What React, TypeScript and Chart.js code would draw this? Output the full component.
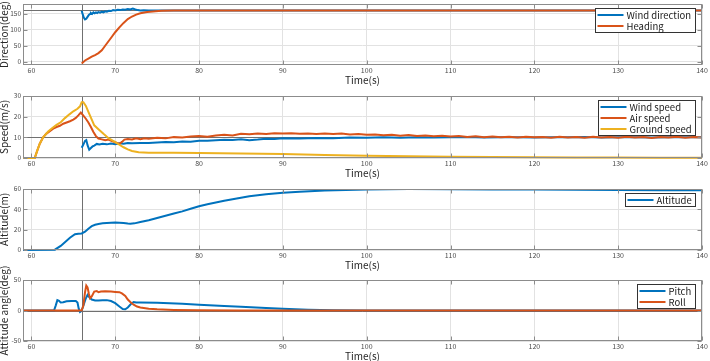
import React, { useEffect, useRef } from "react";
import { Chart, registerables } from "chart.js";

Chart.register(...registerables);

const FONT = '"Noto Sans CJK JP", "Noto Sans", sans-serif';
const BLUE = "#0072BD";
const ORANGE = "#D95319";
const YELLOW = "#EDB120";
const GRID = "#e2e2e2";
const FRAME = "#8c8c8c";
const MARK = "#707070";

// shared time axis
const T_MIN = 59;
const T_MAX = 140;
const EVENT_T = 66;
const timeTicks = [60, 70, 80, 90, 100, 110, 120, 130, 140];

// direction (deg)
const dirTicks = [0, 50, 100, 150];
const windDirT = [66.0, 66.1, 66.25, 66.4, 66.55, 66.7, 66.85, 67.0, 67.1, 67.25, 67.4, 67.55, 67.7, 67.85, 68.0, 68.2, 68.4, 68.6, 68.8, 69.0, 69.25, 69.5, 69.75, 70.0, 70.3, 70.6, 70.9, 71.2, 71.5, 71.8, 72.1, 72.4, 72.7, 73.0, 73.4, 74, 140];
const windDirV = [159, 150, 138, 132, 134, 140, 146, 149, 152, 149, 154, 151, 154, 152, 155, 153, 156, 154, 157, 156, 159, 158, 161, 160, 162, 161, 163, 162, 164, 163, 166, 163, 161, 160, 160.5, 160, 160];
const headingT = [66, 66.4, 66.8, 67.2, 67.6, 68.0, 68.4, 68.8, 69.2, 69.6, 70.0, 70.5, 71.0, 71.5, 72.0, 72.5, 73.0, 73.8, 74.5, 75.5, 77, 80, 140];
const headingV = [-5, 4, 10, 16, 21, 27, 36, 50, 64, 78, 92, 107, 121, 133, 141, 147, 151, 155, 157, 159, 160, 160, 160];

// speed (m/s)
const speedTicks = [0, 10, 20, 30];
const windSpdT = [66.0, 66.2, 66.4, 66.55, 66.7, 66.9, 67.1, 67.3, 67.5, 67.8, 68.1, 68.5, 69, 69.5, 70, 70.5, 71, 71.5, 72, 73, 74, 75, 76, 77, 78, 79, 80, 81, 82, 83, 84, 85, 86, 87, 88, 89, 90, 92, 94, 96, 98, 100, 102, 104, 106, 108, 110, 112, 114, 116, 118, 120, 122, 124, 126, 128, 130, 132, 134, 136, 138, 140];
const windSpdV = [5.0, 6.5, 8.3, 8.7, 6.2, 4.0, 4.8, 5.6, 6.0, 6.8, 6.5, 6.9, 6.6, 7.0, 6.7, 7.1, 6.9, 7.3, 7.1, 7.3, 7.2, 7.5, 7.7, 7.6, 8.0, 7.9, 8.4, 8.3, 8.6, 8.8, 8.7, 9.1, 8.6, 8.9, 9.3, 9.2, 9.5, 9.4, 9.7, 9.6, 9.9, 9.8, 10.0, 9.8, 10.1, 9.9, 10.0, 10.2, 9.9, 10.1, 10.0, 9.9, 10.1, 10.0, 10.2, 9.9, 10.0, 10.1, 9.9, 10.1, 10.0, 10.0];
const airSpdT = [59, 60.4, 60.7, 61.0, 61.4, 61.8, 62.2, 62.6, 63.0, 63.4, 63.8, 64.2, 64.6, 65.0, 65.3, 65.6, 65.9, 66.2, 66.5, 66.8, 67.1, 67.4, 67.7, 68.0, 68.4, 68.8, 69.2, 69.6, 70.0, 70.5, 70.8, 71.1, 71.5, 72, 72.5, 73, 73.5, 74, 75, 76, 77, 78, 79, 80, 81, 82, 83, 84, 85, 86, 87, 88, 89, 90, 91, 92, 93, 94, 95, 96, 97, 98, 99, 100, 101, 102, 103, 104, 105, 106, 107, 108, 109, 110, 111, 112, 113, 114, 115, 116, 117, 118, 119, 120, 121, 122, 123, 124, 125, 126, 127, 128, 129, 130, 131, 132, 133, 134, 135, 136, 137, 138, 139, 140];
const airSpdV = [0, 0, 3.6, 6.9, 10, 11.8, 13, 14.2, 15, 15.6, 16.6, 17.2, 17.8, 18.6, 19.4, 20.6, 22, 20.5, 19, 17.2, 15, 12.6, 10.6, 9.4, 9.0, 8.6, 8.9, 8.2, 7.6, 6.8, 7.8, 8.9, 9.2, 9.0, 9.5, 9.1, 9.6, 9.3, 9.8, 9.5, 10.1, 9.9, 10.4, 10.6, 10.3, 10.9, 11.2, 10.9, 11.7, 11.5, 11.9, 11.6, 12.0, 11.8, 12.0, 11.7, 11.9, 11.6, 11.9, 11.6, 11.8, 11.4, 11.6, 11.2, 11.4, 11.0, 11.2, 10.8, 11.1, 10.7, 10.9, 10.5, 10.8, 10.4, 10.6, 10.2, 10.5, 10.1, 10.4, 10.0, 10.3, 9.9, 10.3, 10.0, 10.2, 9.8, 10.3, 9.9, 10.2, 9.8, 10.3, 9.9, 10.2, 9.8, 10.3, 9.9, 10.2, 9.7, 10.2, 9.9, 10.3, 9.8, 10.1, 9.9];
const gndSpdT = [59, 60.4, 60.7, 61.0, 61.4, 62.0, 62.5, 63.0, 63.5, 64.0, 64.5, 65.0, 65.5, 65.8, 66.0, 66.2, 66.5, 66.8, 67.1, 67.5, 68.0, 68.6, 69.2, 70.0, 70.5, 71.0, 71.5, 72.0, 72.8, 74, 77, 80, 85, 90, 95, 100, 105, 110, 115, 120, 125, 130, 135, 140];
const gndSpdV = [0, 0, 3.6, 6.9, 10, 12.8, 14.5, 16, 17.3, 19.3, 21, 22.6, 23.8, 25, 27, 27, 25.2, 22.3, 19.5, 15.8, 13.9, 11.7, 9.6, 7.7, 6.4, 5.2, 4.2, 3.4, 2.8, 2.6, 2.5, 2.45, 2.2, 1.9, 1.5, 1.1, 0.85, 0.6, 0.45, 0.35, 0.25, 0.2, 0.15, 0.15];

// altitude (m)
const altTicks = [0, 20, 40, 60];
const altT = [59, 62.8, 63.5, 64, 64.6, 65.2, 65.6, 66, 66.4, 66.8, 67.2, 67.6, 68, 68.5, 69, 69.5, 70, 70.5, 71, 71.5, 71.8, 72.3, 73, 74, 75, 76, 77, 78, 79, 80, 81, 82, 83, 84, 86, 88, 90, 92, 95, 100, 105, 110, 115, 120, 125, 130, 135, 140];
const altV = [0, 0.3, 4, 7.6, 12, 15.5, 16, 16.3, 18, 21, 23.5, 24.8, 25.5, 26.2, 26.6, 26.9, 27, 26.9, 26.5, 26, 25.8, 26.2, 27.5, 29.3, 31.5, 33.7, 35.9, 38, 40.5, 43, 45, 46.8, 48.4, 50, 52.8, 54.8, 56.3, 57.4, 58.6, 59.6, 59.9, 59.8, 59.6, 59.4, 59.2, 59.0, 58.8, 58.7];

// attitude angle (deg)
const attTicks = [-50, 0, 50];
const pitchT = [59, 62.7, 62.9, 63.1, 63.3, 63.5, 63.8, 64.2, 64.8, 65.3, 65.5, 65.65, 65.8, 65.95, 66.1, 66.3, 66.5, 66.7, 66.9, 67.2, 67.6, 68, 68.5, 69, 69.5, 70, 70.5, 70.9, 71.2, 71.5, 71.9, 72.2, 72.5, 73, 75, 78, 80, 83, 85, 88, 90, 93, 96, 100, 140];
const pitchV = [0, 0, 8, 17, 16, 13, 13.5, 15, 15.5, 15.5, 13, 3, -2.5, -1, 4, 12, 20, 25.5, 22, 18, 16.5, 16.5, 16.8, 17, 15.5, 12, 6.5, 2.5, 2, 5, 11, 14, 13, 13, 12.6, 11, 9.3, 7.4, 6.2, 4.2, 2.8, 1.2, 0.3, 0.1, 0];
const rollT = [59, 66, 66.2, 66.4, 66.55, 66.7, 66.85, 67, 67.2, 67.5, 67.8, 68, 68.3, 68.8, 69.5, 70, 70.5, 70.8, 71.2, 71.5, 71.8, 72.2, 72.6, 73, 74, 75, 77, 80, 85, 90, 140];
const rollV = [0, 0, 8, 30, 41, 38, 28, 20, 23, 31, 32, 30, 31, 31.5, 31, 30.5, 30, 28, 24, 18, 14, 9.5, 6.5, 5, 3, 2, 1, 0.4, 0.1, 0, 0];

const pts = (t: number[], v: number[]) => t.map((x, i) => ({ x, y: v[i] }));

type Series = { label: string; color: string; t: number[]; v: number[] };
type PanelCfg = {
  plotTop: number;
  plotBottom: number;
  yMin: number;
  yMax: number;
  yTicks: number[];
  yTitle: string;
  hLine: number;
  series: Series[];
};

const PAD_TOP = 22;
const AXIS_H = 22;
const Y_AXIS_W = 23;
const PAD_RIGHT = 8;

const panels: PanelCfg[] = [
  {
    plotTop: 4, plotBottom: 65, yMin: -10, yMax: 180, yTicks: dirTicks, yTitle: "Direction(deg)", hLine: 160,
    series: [
      { label: "Wind direction", color: BLUE, t: windDirT, v: windDirV },
      { label: "Heading", color: ORANGE, t: headingT, v: headingV },
    ],
  },
  {
    plotTop: 96, plotBottom: 158, yMin: 0, yMax: 30, yTicks: speedTicks, yTitle: "Speed(m/s)", hLine: 10,
    series: [
      { label: "Wind speed", color: BLUE, t: windSpdT, v: windSpdV },
      { label: "Air speed", color: ORANGE, t: airSpdT, v: airSpdV },
      { label: "Ground speed", color: YELLOW, t: gndSpdT, v: gndSpdV },
    ],
  },
  {
    plotTop: 189, plotBottom: 250, yMin: 0, yMax: 60, yTicks: altTicks, yTitle: "Altitude(m)", hLine: 0,
    series: [{ label: "Altitude", color: BLUE, t: altT, v: altV }],
  },
  {
    plotTop: 280, plotBottom: 341, yMin: -50, yMax: 50, yTicks: attTicks, yTitle: "Attitude angle(deg)", hLine: 0,
    series: [
      { label: "Pitch", color: BLUE, t: pitchT, v: pitchV },
      { label: "Roll", color: ORANGE, t: rollT, v: rollV },
    ],
  },
];

// gray marker lines: event time and a horizontal reference level
const refLines = {
  id: "refLines",
  beforeDatasetsDraw(chart: any, _args: any, opts: any) {
    const { ctx, chartArea: a, scales } = chart;
    ctx.save();
    ctx.strokeStyle = MARK;
    ctx.lineWidth = 1;
    const px = Math.round(scales.x.getPixelForValue(opts.x)) + 0.5;
    ctx.beginPath();
    ctx.moveTo(px, a.top);
    ctx.lineTo(px, a.bottom);
    ctx.stroke();
    const py = Math.round(scales.y.getPixelForValue(opts.y)) + 0.5;
    if (py > a.top && py < a.bottom) {
      ctx.beginPath();
      ctx.moveTo(a.left, py);
      ctx.lineTo(a.right, py);
      ctx.stroke();
    }
    ctx.restore();
  },
};

// box around the plot with inward tick marks on all four sides
const frame = {
  id: "frame",
  afterDatasetsDraw(chart: any) {
    const { ctx, chartArea: a, scales } = chart;
    const L = Math.round(a.left) + 0.5;
    const R = Math.round(a.right) - 0.5;
    const T = Math.round(a.top) + 0.5;
    const B = Math.round(a.bottom) - 0.5;
    const len = 4;
    ctx.save();
    ctx.strokeStyle = FRAME;
    ctx.lineWidth = 1;
    ctx.strokeRect(L, T, R - L, B - T);
    ctx.beginPath();
    scales.x.ticks.forEach((tk: any) => {
      const px = Math.round(scales.x.getPixelForValue(tk.value)) + 0.5;
      ctx.moveTo(px, B);
      ctx.lineTo(px, B - len);
      ctx.moveTo(px, T);
      ctx.lineTo(px, T + len);
    });
    scales.y.ticks.forEach((tk: any) => {
      const py = Math.round(scales.y.getPixelForValue(tk.value)) + 0.5;
      ctx.moveTo(L, py);
      ctx.lineTo(L + len, py);
      ctx.moveTo(R, py);
      ctx.lineTo(R - len, py);
    });
    ctx.stroke();
    ctx.restore();
  },
};

// boxed legend in the upper right corner of the plot
const boxLegend = {
  id: "boxLegend",
  afterDraw(chart: any) {
    const { ctx, chartArea: a } = chart;
    const items = chart.data.datasets;
    const rowH = 11;
    const sample = 26;
    ctx.save();
    ctx.font = `9.5px ${FONT}`;
    const textW = Math.max(...items.map((d: any) => ctx.measureText(d.label).width));
    const w = Math.round(2 + sample + 3 + textW + 4);
    const h = items.length * rowH + 2;
    const x = Math.round(a.right - 7 - w) + 0.5;
    const y = Math.round(a.top + 4) + 0.5;
    ctx.fillStyle = "#ffffff";
    ctx.fillRect(x, y, w, h);
    ctx.strokeStyle = "#333333";
    ctx.lineWidth = 1;
    ctx.strokeRect(x, y, w, h);
    items.forEach((d: any, i: number) => {
      const cy = y + 1 + rowH * (i + 0.5);
      ctx.strokeStyle = d.borderColor;
      ctx.lineWidth = 2;
      ctx.beginPath();
      ctx.moveTo(x + 2, cy);
      ctx.lineTo(x + 2 + sample, cy);
      ctx.stroke();
      ctx.fillStyle = "#1a1a1a";
      ctx.textAlign = "left";
      ctx.textBaseline = "middle";
      ctx.fillText(d.label, x + 2 + sample + 3, cy + 0.5);
    });
    ctx.restore();
  },
};

function Panel({ cfg }: { cfg: PanelCfg }) {
  const ref = useRef<HTMLCanvasElement | null>(null);
  const height = PAD_TOP + (cfg.plotBottom - cfg.plotTop) + AXIS_H;
  const top = cfg.plotTop - PAD_TOP;

  useEffect(() => {
    if (!ref.current) return;
    const chart = new Chart(ref.current, {
      type: "line",
      data: {
        // later series are painted over earlier ones
        datasets: cfg.series.map((s, i) => ({
          label: s.label,
          data: pts(s.t, s.v),
          borderColor: s.color,
          backgroundColor: s.color,
          borderWidth: 2,
          pointRadius: 0,
          tension: 0,
          fill: false,
          order: -i,
          clip: { left: 0, top: 0, right: 0, bottom: 2 },
        })),
      },
      options: {
        animation: false,
        responsive: false,
        events: [],
        layout: { padding: { top: PAD_TOP, right: PAD_RIGHT, left: 0, bottom: 0 } },
        plugins: {
          legend: { display: false },
          tooltip: { enabled: false },
          refLines: { x: EVENT_T, y: cfg.hLine },
        } as any,
        scales: {
          x: {
            type: "linear",
            min: T_MIN,
            max: T_MAX,
            afterBuildTicks: (s: any) => {
              s.ticks = timeTicks.map((v) => ({ value: v }));
            },
            afterFit: (s: any) => {
              s.height = AXIS_H;
            },
            grid: { color: GRID, drawTicks: false },
            border: { display: false },
            ticks: {
              font: { family: FONT, size: 7 },
              color: "#4a4a4a",
              padding: 1.5,
              maxRotation: 0,
              autoSkip: false,
            },
            title: {
              display: true,
              text: "Time(s)",
              color: "#262626",
              font: { family: FONT, size: 10, lineHeight: 1.2 },
              padding: { top: 0, bottom: 0.5 },
            },
          },
          y: {
            type: "linear",
            min: cfg.yMin,
            max: cfg.yMax,
            afterBuildTicks: (s: any) => {
              s.ticks = cfg.yTicks.map((v) => ({ value: v }));
            },
            afterFit: (s: any) => {
              s.width = Y_AXIS_W;
            },
            grid: { color: GRID, drawTicks: false },
            border: { display: false },
            ticks: {
              font: { family: FONT, size: 6.5 },
              color: "#4a4a4a",
              padding: 2,
              autoSkip: false,
            },
            title: {
              display: true,
              text: cfg.yTitle,
              color: "#262626",
              font: { family: FONT, size: 10, lineHeight: 0.8 },
              padding: { top: 0, bottom: 0 },
            },
          },
        },
      },
      plugins: [refLines, frame, boxLegend],
    } as any);
    return () => chart.destroy();
  }, [cfg]);

  return (
    <canvas
      ref={ref}
      width={710}
      height={height}
      style={{ position: "absolute", left: 0, top, width: 710, height }}
    />
  );
}

export default function App() {
  return (
    <div
      style={{
        position: "fixed",
        left: 0,
        top: 0,
        width: 710,
        height: 361,
        overflow: "hidden",
        background: "#ffffff",
      }}
    >
      {panels.map((p, i) => (
        <Panel key={i} cfg={p} />
      ))}
    </div>
  );
}
